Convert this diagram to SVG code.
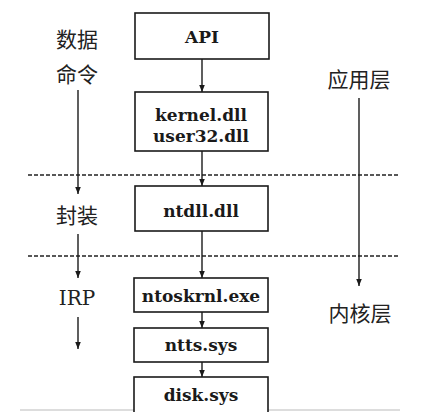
<svg xmlns="http://www.w3.org/2000/svg" width="439" height="412" viewBox="0 0 439 412">
<style>
.box{fill:#fff;stroke:#1a1a1a;stroke-width:1.6}
.t{font-family:'DejaVu Serif',serif;font-size:17px;font-weight:bold;fill:#1a1a1a;text-anchor:middle}
.i{font-family:'DejaVu Serif',serif;font-size:20px;fill:#222;text-anchor:middle}
.c{font-family:'Noto Sans CJK SC',sans-serif;font-size:21px;fill:#222;text-anchor:middle}
.ln{stroke:#1a1a1a;stroke-width:1.4;fill:none}
.dash{stroke:#222;stroke-width:1.6;stroke-dasharray:4 2;fill:none}
</style>
<defs>
<marker id="ah" viewBox="0 0 10 10" refX="10" refY="5" markerWidth="7" markerHeight="7" markerUnits="userSpaceOnUse" orient="auto">
<path d="M0,1 L10,5 L0,9 Z" fill="#1a1a1a"/>
</marker>
</defs>
<rect width="439" height="412" fill="#fff"/>
<g id="separators">
<line class="dash" x1="28" y1="175" x2="400" y2="175"/>
<line class="dash" x1="28" y1="256" x2="400" y2="256"/>
<line x1="20" y1="410" x2="400" y2="410" stroke="#bbb" stroke-width="1"/>
</g>
<g id="connectors">
<line class="ln" x1="202" y1="59" x2="202" y2="92" marker-end="url(#ah)"/>
<line class="ln" x1="202" y1="151" x2="202" y2="186" marker-end="url(#ah)"/>
<line class="ln" x1="202" y1="231" x2="202" y2="278" marker-end="url(#ah)"/>
<line class="ln" x1="202" y1="312" x2="202" y2="328" marker-end="url(#ah)"/>
<line class="ln" x1="202" y1="362" x2="202" y2="377" marker-end="url(#ah)"/>
<line class="ln" x1="78" y1="90" x2="78" y2="194" marker-end="url(#ah)"/>
<line class="ln" x1="78" y1="234" x2="78" y2="278" marker-end="url(#ah)"/>
<line class="ln" x1="78" y1="317" x2="78" y2="349" marker-end="url(#ah)"/>
<line class="ln" x1="359" y1="98" x2="359" y2="286" marker-end="url(#ah)"/>
</g>
<g id="api"><rect class="box" x="135" y="13" width="134" height="46"/><text class="t" x="202" y="43">API</text></g>
<g id="kernel"><rect class="box" x="135" y="92" width="133" height="59"/><text class="t" x="201" y="121">kernel.dll</text><text class="t" x="201" y="142">user32.dll</text></g>
<g id="ntdll"><rect class="box" x="135" y="186" width="133" height="45"/><text class="t" x="201" y="217">ntdll.dll</text></g>
<g id="ntoskrnl"><rect class="box" x="134" y="278" width="134" height="34"/><text class="t" x="201" y="302">ntoskrnl.exe</text></g>
<g id="ntts"><rect class="box" x="134" y="328" width="134" height="34"/><text class="t" x="201" y="351">ntts.sys</text></g>
<g id="disk"><rect class="box" x="134" y="377" width="134" height="40"/><text class="t" x="201" y="401">disk.sys</text></g>
<g id="labels">
<text class="c" x="77" y="47">数据</text>
<text class="c" x="77" y="82">命令</text>
<text class="c" x="77" y="223">封装</text>
<text class="i" x="77" y="305">IRP</text>
<text class="c" x="359" y="87">应用层</text>
<text class="c" x="360" y="321">内核层</text>
</g>
</svg>
